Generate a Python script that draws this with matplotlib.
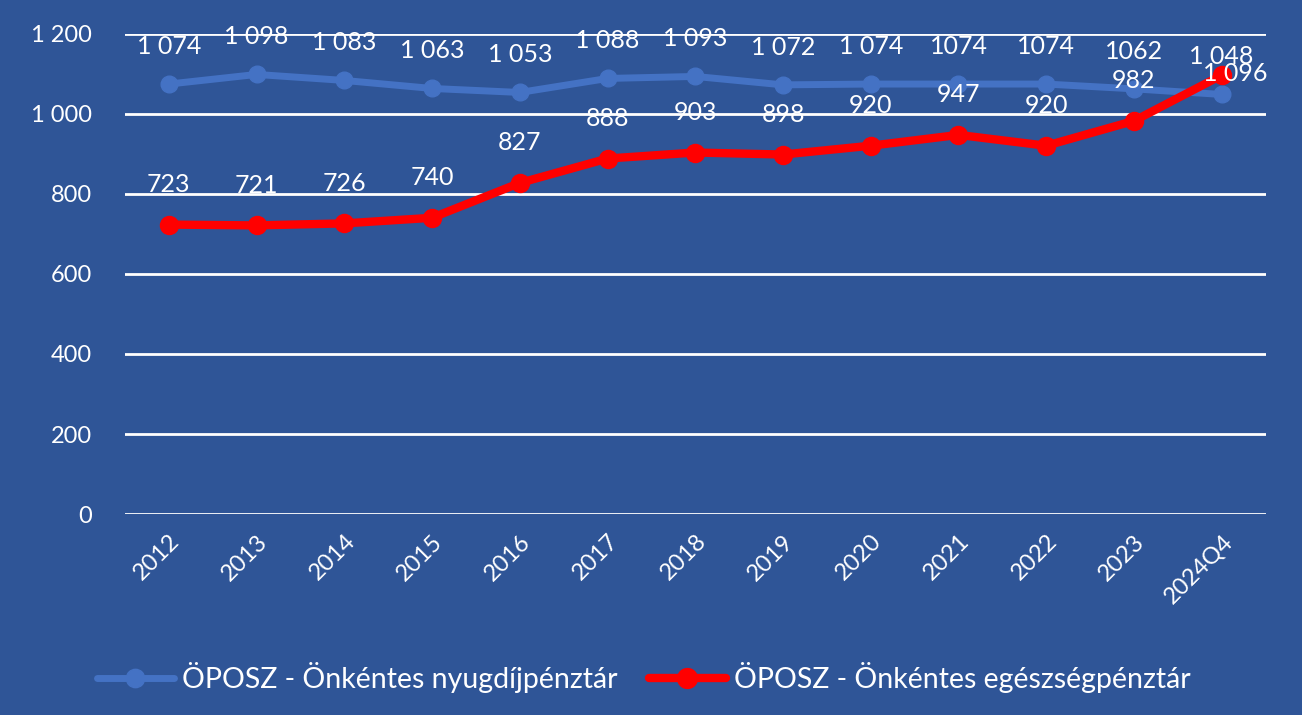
import matplotlib.pyplot as plt
from matplotlib.ticker import FuncFormatter

plt.rcParams['font.family'] = ['Lato', 'DejaVu Sans']

evek = ['2012', '2013', '2014', '2015', '2016', '2017', '2018', '2019',
        '2020', '2021', '2022', '2023', '2024Q4']
nyugdij = [1074, 1098, 1083, 1063, 1053, 1088, 1093, 1072, 1074, 1074, 1074, 1062, 1048]
egeszseg = [723, 721, 726, 740, 827, 888, 903, 898, 920, 947, 920, 982, 1096]
nyugdij_cimkek = ['1 074', '1 098', '1 083', '1 063', '1 053', '1 088', '1 093',
                  '1 072', '1 074', '1074', '1074', '1062', '1 048']
egeszseg_cimkek = ['723', '721', '726', '740', '827', '888', '903', '898',
                   '920', '947', '920', '982', '1 096']

hatter = '#2F5597'
kek = '#4472C4'
piros = '#FF0000'

fig = plt.figure(figsize=(13.02, 7.15), dpi=100, facecolor=hatter)
ax = fig.add_axes([0.096, 0.281, 0.876, 0.672])
ax.set_facecolor(hatter)

x = list(range(len(evek)))
ax.plot(x, nyugdij, color=kek, lw=5, marker='o', ms=12, solid_capstyle='round',
        label='ÖPOSZ - Önkéntes nyugdíjpénztár', zorder=3)
ax.plot(x, egeszseg, color=piros, lw=6, marker='o', ms=13, solid_capstyle='round',
        label='ÖPOSZ - Önkéntes egészségpénztár', zorder=4)

# adatcímkék a pontok fölött
for i in x:
    ax.annotate(nyugdij_cimkek[i], (i, nyugdij[i]), xytext=(0, 27), textcoords='offset points',
                ha='center', va='center', color='white', fontsize=18, zorder=5)
    eltolas = (10, 1) if i == len(evek) - 1 else (0, 29)
    ax.annotate(egeszseg_cimkek[i], (i, egeszseg[i]), xytext=eltolas, textcoords='offset points',
                ha='center', va='center', color='white', fontsize=18, zorder=5)

ax.set_xlim(-0.5, len(evek) - 0.5)
ax.set_ylim(0, 1200)
ax.set_yticks(range(0, 1201, 200))
ax.yaxis.set_major_formatter(FuncFormatter(lambda v, p: f'{int(v):,}'.replace(',', ' ')))
ax.grid(axis='y', color='white', lw=2)
ax.set_axisbelow(True)
for s in ax.spines.values():
    s.set_visible(False)
ax.tick_params(axis='both', length=0, colors='white', labelsize=17)
ax.tick_params(axis='y', pad=24)
ax.set_xticks(x)
ax.set_xticklabels(evek, rotation=45, ha='right', rotation_mode='anchor')
ax.tick_params(axis='x', pad=12)

leg = ax.legend(loc='upper center', bbox_to_anchor=(0.455, -0.255), ncol=2, frameon=False,
                fontsize=20.5, labelcolor='white', handlelength=2.7, handletextpad=0.3,
                columnspacing=1.1, markerscale=1.1)

fig.savefig('out.png', dpi=100, facecolor=hatter)
